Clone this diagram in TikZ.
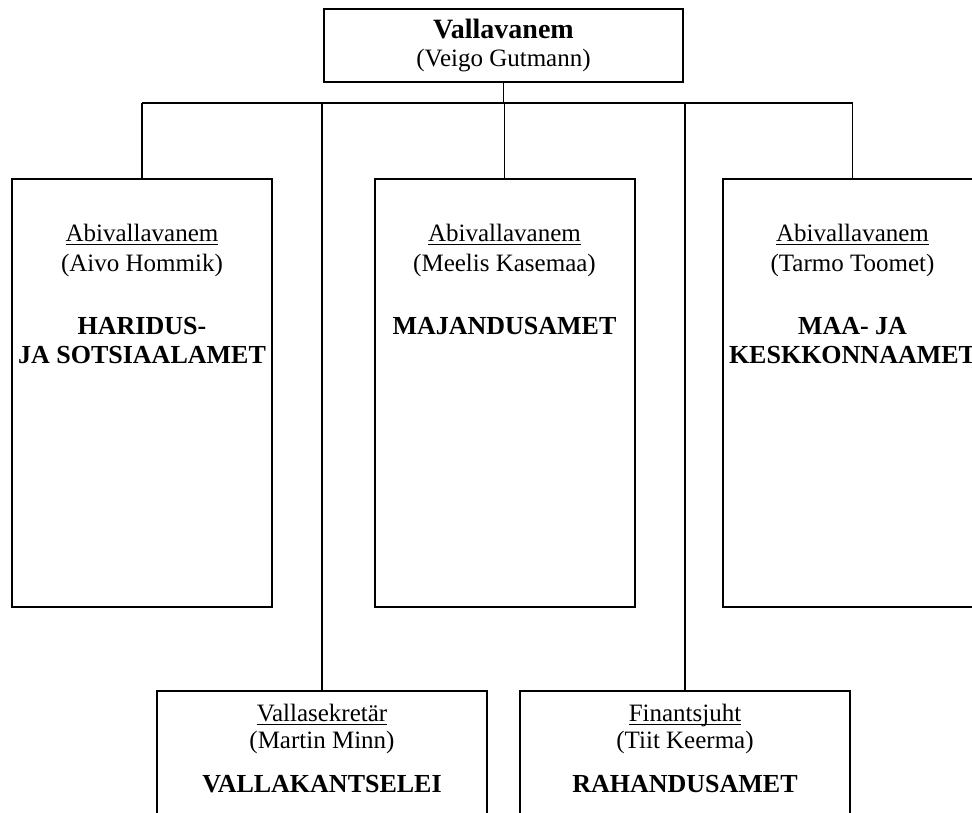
\documentclass[tikz,border=0pt]{standalone}
\usepackage{fontspec}
\setmainfont{Liberation Serif}
\usetikzlibrary{positioning}
\newcommand\ulbl[1]{\underline{\smash{#1}}\vphantom{#1}}
\newcommand\bigb[1]{{\fontsize{13}{14}\selectfont\bfseries #1}}

\begin{document}
\begin{tikzpicture}[x=.5pt,y=-.5pt,
  box/.style={draw,line width=1pt,inner sep=0pt},
  dept/.style={box,minimum width=130pt,minimum height=214pt},
  unit/.style={box,minimum width=165pt,minimum height=80pt},
  wire/.style={line width=.7pt},
  txt/.style={align=center,inner sep=0pt,font=\fontsize{12.5}{14.75}\selectfont},
  txtb/.style={align=center,inner sep=0pt,font=\fontsize{12.5}{13.25}\selectfont}]
 \path[use as bounding box,clip] (0,0) rectangle (972,812);
 % top
 \node[box,minimum width=179.5pt,minimum height=36.5pt,align=center,
   font=\fontsize{12.5}{14}\selectfont] (vanem) at (503.5,45.5)
   {{\fontsize{14}{14}\selectfont\bfseries Vallavanem}\\(Veigo Gutmann)};
 % deputies
 \node[dept] (haridus) at (142,393) {};
 \node[dept] (majandus) at (504.5,393) {};
 \node[dept] (maa) at (852.5,393) {};
 \node[txt,below=23pt of haridus.north] (haridust)
   {\ulbl{Abivallavanem}\\(Aivo Hommik)\\[16.75pt]\bigb{HARIDUS-}\\\bigb{JA SOTSIAALAMET}};
 \node[txt,below=23pt of majandus.north] (majandust)
   {\ulbl{Abivallavanem}\\(Meelis Kasemaa)\\[16.75pt]\bigb{MAJANDUSAMET}};
 \node[txt,below=23pt of maa.north] (maat)
   {\ulbl{Abivallavanem}\\(Tarmo Toomet)\\[16.75pt]\bigb{MAA- JA}\\\bigb{KESKKONNAAMET}};
 % lower row
 \node[unit] (kants) at (322,771) {};
 \node[unit] (raha) at (685,771) {};
 \node[txtb,below=7pt of kants.north] (kantst)
   {\ulbl{Vallasekretär}\\(Martin Minn)\\[8.75pt]\bigb{VALLAKANTSELEI}};
 \node[txtb,below=7pt of raha.north] (rahat)
   {\ulbl{Finantsjuht}\\(Tiit Keerma)\\[8.75pt]\bigb{RAHANDUSAMET}};
 % connectors
 \coordinate (bus) at (0,103);
 \draw[wire] (vanem.south) -- (vanem.south |- bus);
 \draw[wire] (haridus.north |- bus) -- (maa.north |- bus);
 \foreach \n in {haridus,majandus,maa,kants,raha}
   \draw[wire] (\n.north) -- (\n.north |- bus);
\end{tikzpicture}
\end{document}
